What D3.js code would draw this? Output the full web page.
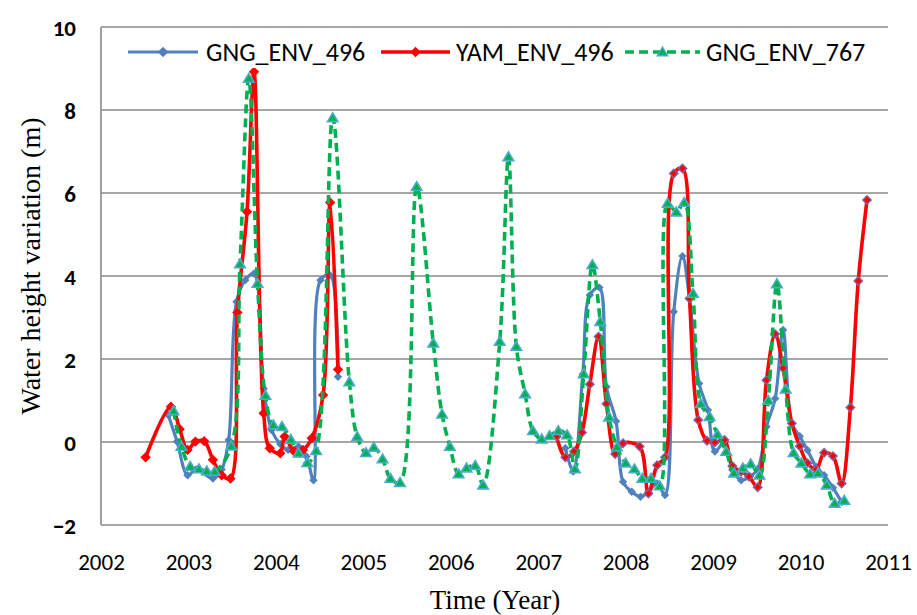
<!DOCTYPE html>
<html><head><meta charset="utf-8">
<script src="https://cdn.jsdelivr.net/npm/d3@7"></script>
<style>body{margin:0;background:#fff}svg{display:block}</style>
</head><body><svg id="c" width="917" height="615"></svg>
<script>
// ---- data ----
const seriesNames = ["GNG_ENV_496", "YAM_ENV_496", "GNG_ENV_767"];
const xTicks = [2002, 2003, 2004, 2005, 2006, 2007, 2008, 2009, 2010, 2011];
const yTicks = [-2, 0, 2, 4, 6, 8, 10];

const gng496Years = [2002.77,2002.87,2002.99,2003.09,2003.28,2003.38,2003.46,2003.55,2003.65,2003.75,2003.86,2003.95,2004.05,2004.14,2004.26,2004.35,2004.43,2004.51,2004.62,2004.71,
  2006.0,
  2007.31,2007.40,2007.51,2007.59,2007.70,2007.78,2007.89,2007.97,2008.07,2008.17,2008.26,2008.36,2008.45,2008.55,2008.65,2008.73,2008.84,2008.94,2009.02,2009.13,2009.22,2009.32,2009.41,2009.51,2009.61,2009.71,2009.80,2009.90,2009.99,2010.08,2010.18,2010.27,2010.37,2010.47];
const gng496Values = [0.65,0.01,-0.80,-0.66,-0.88,-0.66,0.05,3.38,3.90,4.06,1.29,0.29,-0.05,-0.19,-0.11,-0.35,-0.92,3.90,4.02,1.57,
  null,
  -0.15,-0.71,1.64,3.54,3.72,1.33,0.50,-0.96,-1.20,-1.32,-1.20,-1.00,-1.28,3.14,4.48,3.45,1.41,0.77,-0.23,0.00,-0.67,-0.92,-0.85,-0.65,0.37,1.05,2.70,0.45,0.14,-0.20,-0.60,-0.80,-1.10,-1.45];

const yam496Years = [2002.51,2002.80,2002.90,2002.99,2003.08,2003.18,2003.28,2003.38,2003.48,2003.56,2003.67,2003.75,2003.86,2003.93,2004.05,2004.10,2004.21,2004.31,2004.41,2004.54,2004.62,2004.71,
  2006.0,
  2007.21,2007.31,2007.41,2007.50,2007.59,2007.69,2007.78,2007.88,2007.97,2008.16,2008.26,2008.36,2008.45,2008.55,2008.65,2008.73,2008.83,2008.93,2009.02,2009.13,2009.22,2009.32,2009.41,2009.51,2009.61,2009.71,2009.80,2009.90,2009.99,2010.08,2010.18,2010.27,2010.37,2010.47,2010.57,2010.66,2010.76];
const yam496Values = [-0.37,0.85,0.31,-0.19,0.01,0.02,-0.43,-0.80,-0.88,3.12,5.55,8.92,0.69,-0.15,-0.27,0.13,-0.23,-0.19,0.09,1.13,5.77,1.75,
  null,
  0.13,-0.37,-0.23,0.23,1.39,2.54,0.92,-0.29,-0.03,-0.11,-1.24,-0.56,-0.37,6.47,6.59,3.46,0.53,0.03,-0.01,0.05,-0.58,-0.71,-0.83,-1.09,1.49,2.60,1.78,0.45,-0.10,-0.51,-0.66,-0.26,-0.34,-1.00,0.83,3.88,5.83];

const gng767Years = [2002.83,2002.92,2003.02,2003.12,2003.21,2003.30,2003.49,2003.59,2003.69,2003.79,2003.88,2003.97,2004.07,2004.17,2004.26,2004.36,2004.46,2004.65,2004.84,2004.93,2005.03,2005.12,2005.22,2005.31,2005.42,2005.61,2005.80,2005.90,2005.99,2006.09,2006.18,2006.28,2006.37,2006.56,2006.66,2006.75,2006.85,2006.94,2007.04,2007.13,2007.23,2007.33,2007.42,2007.52,2007.62,2007.71,2007.81,2007.90,2008.00,2008.10,2008.19,2008.29,2008.39,2008.48,2008.58,2008.67,2008.77,2008.86,2008.96,2009.05,2009.15,2009.24,2009.34,2009.43,2009.53,2009.63,2009.73,2009.83,2009.92,2010.01,2010.11,2010.20,2010.30,2010.39,2010.50];
const gng767Values = [0.75,-0.11,-0.59,-0.65,-0.70,-0.71,-0.10,4.29,8.76,3.82,1.12,0.41,0.37,0.06,-0.27,-0.50,-0.21,7.81,1.45,0.13,-0.26,-0.13,-0.41,-0.88,-0.98,6.15,2.38,0.67,-0.11,-0.77,-0.63,-0.57,-1.04,2.42,6.87,2.30,1.16,0.27,0.07,0.15,0.27,0.17,-0.65,1.64,4.27,2.90,0.60,-0.12,-0.51,-0.65,-0.88,-0.88,-1.06,5.75,5.54,5.77,3.58,0.92,0.61,0.18,-0.23,-0.75,-0.63,-0.53,-0.80,1.00,3.81,1.27,-0.26,-0.51,-0.77,-0.75,-1.04,-1.48,-1.41];

// ---- drawing ----
const svg = d3.select("#c");
const x = d3.scaleLinear().domain([2002, 2011]).range([101, 888]);
const y = d3.scaleLinear().domain([-2, 10]).range([525, 27]);
const gridColor = "#8a8a8a";
const labelFont = "Carlito, Lato, 'Open Sans', sans-serif";

// gridlines
svg.append("g").selectAll("line").data(yTicks).join("line")
  .attr("x1", x(2002)).attr("x2", x(2011))
  .attr("y1", d => y(d)).attr("y2", d => y(d))
  .attr("stroke", gridColor).attr("stroke-width", 1.6);
// left axis line
svg.append("line").attr("x1", x(2002)).attr("x2", x(2002)).attr("y1", y(10)).attr("y2", y(-2))
  .attr("stroke", gridColor).attr("stroke-width", 1.6);

// y tick labels
const yAxis = d3.axisLeft(y).tickValues(yTicks).tickSize(0).tickPadding(0).tickFormat(d3.format("d"));
const ya = svg.append("g").attr("transform", `translate(${76},0)`).call(yAxis);
ya.select(".domain").remove();
ya.selectAll("text").attr("font-family", labelFont).attr("font-size", 23).attr("font-weight", "bold").attr("fill", "#000").attr("dy", "0.35em");

// x tick labels
const xAxis = d3.axisBottom(x).tickValues(xTicks).tickSize(0).tickPadding(0).tickFormat(d3.format("d"));
const xa = svg.append("g").attr("transform", `translate(0,${562})`).call(xAxis);
xa.select(".domain").remove();
xa.selectAll("text").attr("font-family", labelFont).attr("font-size", 23).attr("fill", "#000").attr("dy", "0.35em");

// axis titles
svg.append("text").attr("x", 495).attr("y", 609).attr("text-anchor", "middle")
  .attr("font-family", "'Liberation Serif', 'Times New Roman', serif").attr("font-size", 27).text("Time (Year)");
svg.append("text").attr("transform", "translate(40,266) rotate(-90)").attr("text-anchor", "middle")
  .attr("font-family", "'Liberation Serif', 'Times New Roman', serif").attr("font-size", 28).text("Water height variation (m)");

function pts(years, values) { return years.map((t, i) => ({t, v: values[i]})); }
const curve = d3.curveCatmullRom.alpha(0.5);
const line = d3.line().defined(d => d.v !== null).x(d => x(d.t)).y(d => y(d.v)).curve(curve);

const diamond = s => `M0,${-s}L${s},0L0,${s}L${-s},0Z`;
const tri = s => `M0,${-s}L${s*1.05},${s*0.75}L${-s*1.05},${s*0.75}Z`;

const blueData = pts(gng496Years, gng496Values);
const redData = pts(yam496Years, yam496Values);
const greenData = pts(gng767Years, gng767Values);

// blue
svg.append("path").datum(blueData).attr("d", line).attr("fill", "none")
  .attr("stroke", "#4F81BD").attr("stroke-width", 3.2).attr("stroke-linejoin", "round");
svg.append("g").selectAll("path").data(blueData.filter(d => d.v !== null)).join("path")
  .attr("transform", d => `translate(${x(d.t)},${y(d.v)})`).attr("d", diamond(4.2)).attr("fill", "#4F81BD");

// red
svg.append("path").datum(redData).attr("d", line).attr("fill", "none")
  .attr("stroke", "#FF0000").attr("stroke-width", 3.6).attr("stroke-linejoin", "round");
svg.append("g").selectAll("path").data(redData.filter(d => d.v !== null)).join("path")
  .attr("transform", d => `translate(${x(d.t)},${y(d.v)})`).attr("d", diamond(4.2))
  .attr("fill", "#FF0000").attr("stroke", d => d.t > 2007 ? "#8064A2" : "#FF0000").attr("stroke-width", 1.4);

// green
svg.append("path").datum(greenData).attr("d", line).attr("fill", "none")
  .attr("stroke", "#00B050").attr("stroke-width", 3.6).attr("stroke-dasharray", "9,5");
svg.append("g").selectAll("path").data(greenData).join("path")
  .attr("transform", d => `translate(${x(d.t)},${y(d.v)})`).attr("d", tri(5))
  .attr("fill", "#00B050").attr("stroke", "#4BACC6").attr("stroke-width", 1.6);

// legend
const legend = [
  {name: seriesNames[0], x0: 128, x1: 198, tx: 206, color: "#4F81BD", w: 3.2, dash: null, m: "d", mf: "#4F81BD", ms: "#4F81BD"},
  {name: seriesNames[1], x0: 381, x1: 450, tx: 456, color: "#FF0000", w: 3.6, dash: null, m: "d", mf: "#FF0000", ms: "#FF0000"},
  {name: seriesNames[2], x0: 625, x1: 700, tx: 706, color: "#00B050", w: 3.6, dash: "9,5", m: "t", mf: "#00B050", ms: "#4BACC6"}
];
const lg = svg.append("g").selectAll("g").data(legend).join("g");
lg.append("rect").attr("x", d => d.x0 - 4).attr("y", 36).attr("width", d => d.x1 - d.x0 + 175).attr("height", 32).attr("fill", "#fff");
lg.append("line").attr("x1", d => d.x0).attr("x2", d => d.x1).attr("y1", 52).attr("y2", 52)
  .attr("stroke", d => d.color).attr("stroke-width", d => d.w).attr("stroke-dasharray", d => d.dash);
lg.append("path").attr("transform", d => `translate(${(d.x0 + d.x1) / 2},52)`)
  .attr("d", d => d.m === "d" ? diamond(4.2) : tri(5)).attr("fill", d => d.mf).attr("stroke", d => d.ms).attr("stroke-width", 1.4);
lg.append("text").attr("x", d => d.tx).attr("y", 52).attr("dy", "0.35em")
  .attr("font-family", labelFont).attr("font-size", 26).attr("fill", "#000").text(d => d.name);
</script></body></html>
